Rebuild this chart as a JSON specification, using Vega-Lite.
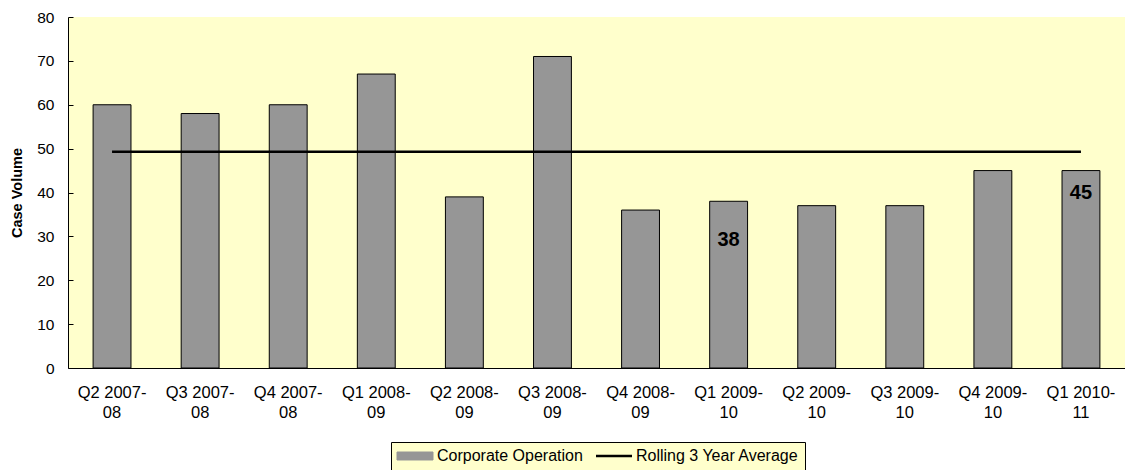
{
  "$schema": "https://vega.github.io/schema/vega-lite/v6.json",
  "width": 1057,
  "height": 351,
  "autosize": {"type": "none"},
  "padding": {"left": 68, "top": 17, "right": 0, "bottom": 102},
  "background": "white",
  "config": {
    "font": "Liberation Sans",
    "view": {"fill": "#FFFFCC", "stroke": null},
    "axis": {"labelFont": "Liberation Sans", "labelColor": "black", "domainColor": "black", "tickColor": "black", "titleColor": "black"}
  },
  "data": {
    "values": [
      {"quarter": "Q2 2007-08", "cases": 60, "avg": 49.3},
      {"quarter": "Q3 2007-08", "cases": 58, "avg": 49.3},
      {"quarter": "Q4 2007-08", "cases": 60, "avg": 49.3},
      {"quarter": "Q1 2008-09", "cases": 67, "avg": 49.3},
      {"quarter": "Q2 2008-09", "cases": 39, "avg": 49.3},
      {"quarter": "Q3 2008-09", "cases": 71, "avg": 49.3},
      {"quarter": "Q4 2008-09", "cases": 36, "avg": 49.3},
      {"quarter": "Q1 2009-10", "cases": 38, "avg": 49.3},
      {"quarter": "Q2 2009-10", "cases": 37, "avg": 49.3},
      {"quarter": "Q3 2009-10", "cases": 37, "avg": 49.3},
      {"quarter": "Q4 2009-10", "cases": 45, "avg": 49.3},
      {"quarter": "Q1 2010-11", "cases": 45, "avg": 49.3}
    ]
  },
  "encoding": {
    "x": {
      "field": "quarter",
      "type": "nominal",
      "sort": null,
      "scale": {"paddingInner": 0.57, "paddingOuter": 0.285},
      "axis": {
        "title": null,
        "labelAngle": 0,
        "ticks": false,
        "labelPadding": 16,
        "labelFontSize": 16.5,
        "labelLineHeight": 20,
        "labelExpr": "[slice(datum.label, 0, 8), slice(datum.label, 8)]"
      }
    }
  },
  "layer": [
    {
      "mark": {"type": "bar", "stroke": "black"},
      "encoding": {
        "y": {
          "field": "cases",
          "type": "quantitative",
          "scale": {"domain": [0, 80], "nice": false},
          "axis": {
            "title": "Case Volume",
            "titleFontSize": 14.5,
            "titleFontWeight": "bold",
            "titlePadding": 12,
            "values": [0, 10, 20, 30, 40, 50, 60, 70, 80],
            "grid": false,
            "tickSize": -5,
            "labelPadding": 19,
            "labelFontSize": 15.5
          }
        },
        "color": {
          "datum": "Corporate Operation",
          "type": "nominal",
          "scale": {"domain": ["Corporate Operation", "Rolling 3 Year Average"], "range": ["#969696", "black"]},
          "legend": {
            "orient": "none",
            "legendX": 323,
            "legendY": 425,
            "direction": "horizontal",
            "title": null,
            "fillColor": "#FFFFCC",
            "strokeColor": "black",
            "padding": 6,
            "symbolSize": 1296,
            "symbolOffset": 10,
            "symbolType": {"expr": "datum.value === 'Corporate Operation' ? 'M-1,-0.222H1V0.222H-1Z' : 'stroke'"},
            "symbolStrokeWidth": {"expr": "datum.value === 'Corporate Operation' ? 1 : 2.5"},
            "symbolStrokeColor": "black",
            "labelFontSize": 16,
            "labelFont": "Liberation Sans",
            "labelColor": "black",
            "labelLimit": 400,
            "labelOffset": 14,
            "columnPadding": 8
          }
        }
      }
    },
    {
      "mark": {"type": "line", "strokeWidth": 2.5},
      "encoding": {
        "y": {"field": "avg", "type": "quantitative"},
        "color": {"datum": "Rolling 3 Year Average", "type": "nominal", "legend": null}
      }
    },
    {
      "transform": [{"filter": "datum.quarter === 'Q1 2009-10'"}],
      "mark": {"type": "text", "fontSize": 20, "fontWeight": "bold", "color": "black", "baseline": "middle", "dy": 39},
      "encoding": {
        "y": {"field": "cases", "type": "quantitative"},
        "text": {"field": "cases", "type": "quantitative"}
      }
    },
    {
      "transform": [{"filter": "datum.quarter === 'Q1 2010-11'"}],
      "mark": {"type": "text", "fontSize": 20, "fontWeight": "bold", "color": "black", "baseline": "middle", "dy": 22.5},
      "encoding": {
        "y": {"field": "cases", "type": "quantitative"},
        "text": {"field": "cases", "type": "quantitative"}
      }
    }
  ]
}
